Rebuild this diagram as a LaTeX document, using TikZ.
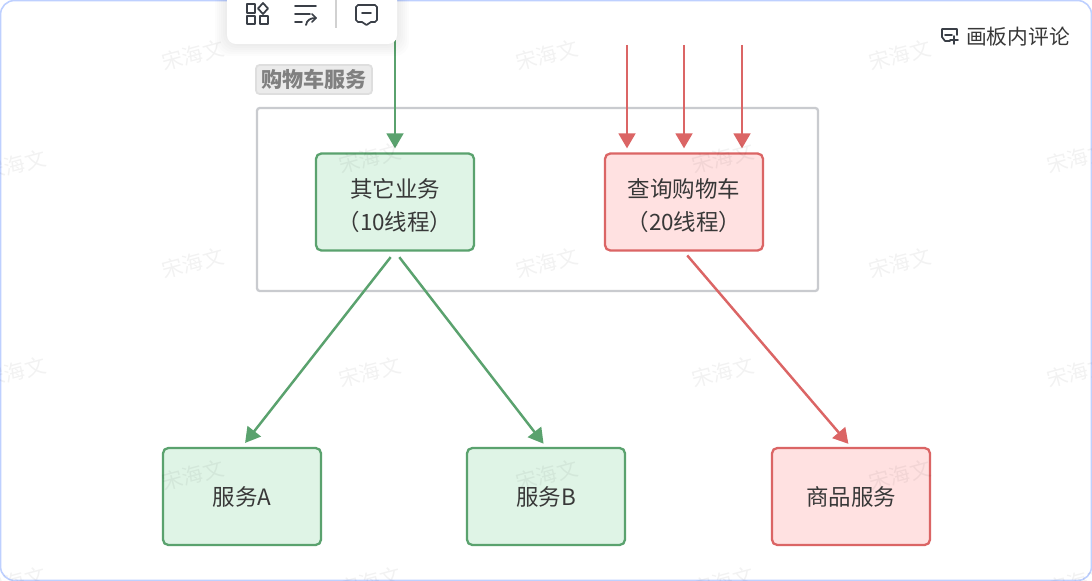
\documentclass[tikz,border=0pt]{standalone}
\usepackage{fontspec}
\setmainfont{Noto Sans CJK SC}
\usepackage{tikz}
\usetikzlibrary{calc,arrows.meta}
\definecolor{frameblue}{HTML}{BED0FF}
\definecolor{greenline}{HTML}{5AA26E}
\definecolor{greenfill}{HTML}{DFF4E6}
\definecolor{redline}{HTML}{DB6565}
\definecolor{redfill}{HTML}{FFE1E1}
\definecolor{graybox}{HTML}{C9CBCF}
\definecolor{iconcol}{HTML}{3A3F47}
\newcommand{\lowerstrut}{\rule{0pt}{15pt}}
\tikzset{
  greenbox/.style={draw=greenline,fill=greenfill,line width=1.3pt,rounded corners=3pt,minimum width=3.16cm,minimum height=1.94cm,align=center,font=\fontsize{12.8}{18.8}\selectfont,text=black!78},
  redbox/.style={greenbox,draw=redline,fill=redfill},
  greenarrow/.style={draw=greenline,line width=1.4pt,-{Triangle[length=8.5pt,width=9.5pt]}},
  redarrow/.style={draw=redline,line width=1.4pt,-{Triangle[length=8.5pt,width=9.5pt]}},
  iconline/.style={draw=iconcol,line width=1pt,line cap=round,line join=round}
}
\begin{document}
\begin{tikzpicture}[x=0.02cm,y=-0.02cm]
    \useasboundingbox (0,0) rectangle (1092,581);
    \fill[white] (0,0) rectangle (1092,581);
    \draw[frameblue,line width=0.9pt,rounded corners=8pt] (0.5,0.5) rectangle (1091.5,580.5);

    % service group
    \node[draw=graybox,line width=1.3pt,rounded corners=1.5pt,minimum width=11.22cm,minimum height=3.66cm] (group) at (537.5,199.5) {};
    \node[draw=black!13,fill=black!8,line width=1pt,rounded corners=2pt,minimum width=2.32cm,minimum height=0.58cm,inner sep=0pt,text=black!50,font=\fontsize{12}{12}\selectfont\bfseries] (grouplabel) at (314,79.5) {购物车服务};

    % boxes
    \node[greenbox] (other) at (395,202) {\lowerstrut 其它业务\\（10线程）};
    \node[redbox] (query) at (684,202) {\lowerstrut 查询购物车\\（20线程）};
    \node[greenbox] (serviceA) at (242,496.5) {服务A};
    \node[greenbox] (serviceB) at (546,496.5) {服务B};
    \node[redbox] (goods) at (851,496.5) {商品服务};

    % incoming requests
    \coordinate (inG) at (395,40);
    \coordinate (inA) at (627,45);
    \coordinate (inB) at (684,45);
    \coordinate (inC) at (742,45);
    \draw[greenarrow,shorten >=0.08cm] (inG) -- (inG |- other.north);
    \foreach \s in {inA,inB,inC}
        \draw[redarrow,shorten >=0.08cm] (\s) -- (\s |- query.north);

    % calls
    \draw[greenarrow,shorten <=0.14cm,shorten >=0.1cm] (other.south) -- (serviceA.north);
    \draw[greenarrow,shorten <=0.14cm,shorten >=0.08cm] (other.south) -- (serviceB.north);
    \draw[redarrow,shorten <=0.1cm,shorten >=0.08cm] (query.south) -- (goods.north);

    % watermark
    \foreach \x/\y in {193/55,547/55,900/55,15/165,370/158,723/158,1078/158,193/263,547/263,900/263,15/372,370/372,723/372,1078/372,193/475,547/475,900/475,15/582,370/582,723/582,1078/582}
        \node[rotate=15,text=black,opacity=0.05,font=\fontsize{11.9}{12}\selectfont] at (\x,\y) {宋海文};

    % toolbar
    \foreach \i in {1,...,6}
        \fill[black,opacity=0.012,rounded corners=8pt] ({227-\i*2},-20) rectangle ({397+\i*2},{44+\i*2});
    \fill[white,rounded corners=5pt] (227,-20) rectangle (397,44);
    \draw[iconline] (247,4) rectangle (255,13) (247,16) rectangle (255,24) (260,16) rectangle (268,24);
    \draw[iconline] (263,3) -- (268,8.5) -- (263,14) -- (258,8.5) -- cycle;
    \draw[iconline] (295,6) -- (316,6) (295,14) -- (310,14) (295,22) -- (302,22);
    \draw[iconline] (306,25) .. controls (307,20) and (310,18) .. (316,18);
    \draw[iconline] (312,14) -- (316,18) -- (312,22);
    \draw[black!18,line width=0.8pt] (336,0) -- (336,28);
    \draw[iconline] (358,5) -- (375,5) -- (377,7) -- (377,20) -- (375,22) -- (371,22) -- (366.5,25) -- (362,22) -- (358,22) -- (356,20) -- (356,7) -- cycle;
    \draw[iconline] (362,13) -- (371,13);

    % comment button
    \draw[iconline] (950,41) -- (945,41) -- (942,37) -- (942,29) -- (957,29) -- (957,35);
    \draw[iconline] (945,35) -- (952,35);
    \draw[iconline] (950,40) -- (958,40) (954,36) -- (954,44);
    \node[text=black!78,inner sep=0pt,font=\fontsize{11.8}{12}\selectfont] (comment) at (1018,37) {画板内评论};
\end{tikzpicture}
\end{document}
